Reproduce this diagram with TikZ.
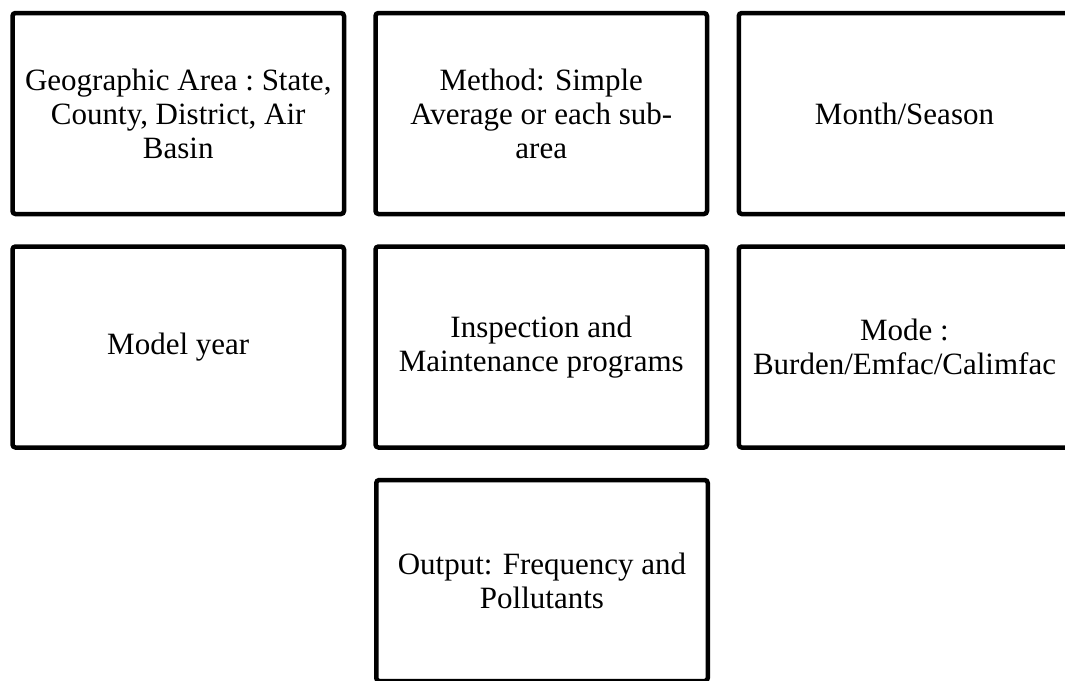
\documentclass[tikz,border=0pt]{standalone}
\usepackage{fontspec}
\setmainfont{Liberation Serif}
\begin{document}
\begin{tikzpicture}[x=1pt,y=-1pt,
  box/.style={draw=black, line width=4.5pt, rounded corners=3pt,
    minimum width=331.5pt, minimum height=201pt, inner sep=0pt,
    align=center, font=\fontsize{31}{34}\selectfont}]
\useasboundingbox (0,0) rectangle (1065,680);
\fill[white] (0,0) rectangle (1065,680);
\clip (0,0) rectangle (1065,680);
\node[box] (geo) at (178.25,113.5) {Geographic Area :\ State,\\County, District, Air\\Basin};
\node[box] (method) at (541.25,113.5) {Method: Simple\\Average or each sub-\\area};
\node[box] (month) at (904.5,113.5) {Month/Season};
\node[box] (model) at (178.25,347) {Model year};
\node[box] (im) at (541.25,347) {Inspection and\\Maintenance programs};
\node[box] (mode) at (904.5,347) {Mode :\\Burden/Emfac/Calimfac};
\node[box] (out) at (542,580.5) {Output: Frequency and\\Pollutants};
\end{tikzpicture}
\end{document}
